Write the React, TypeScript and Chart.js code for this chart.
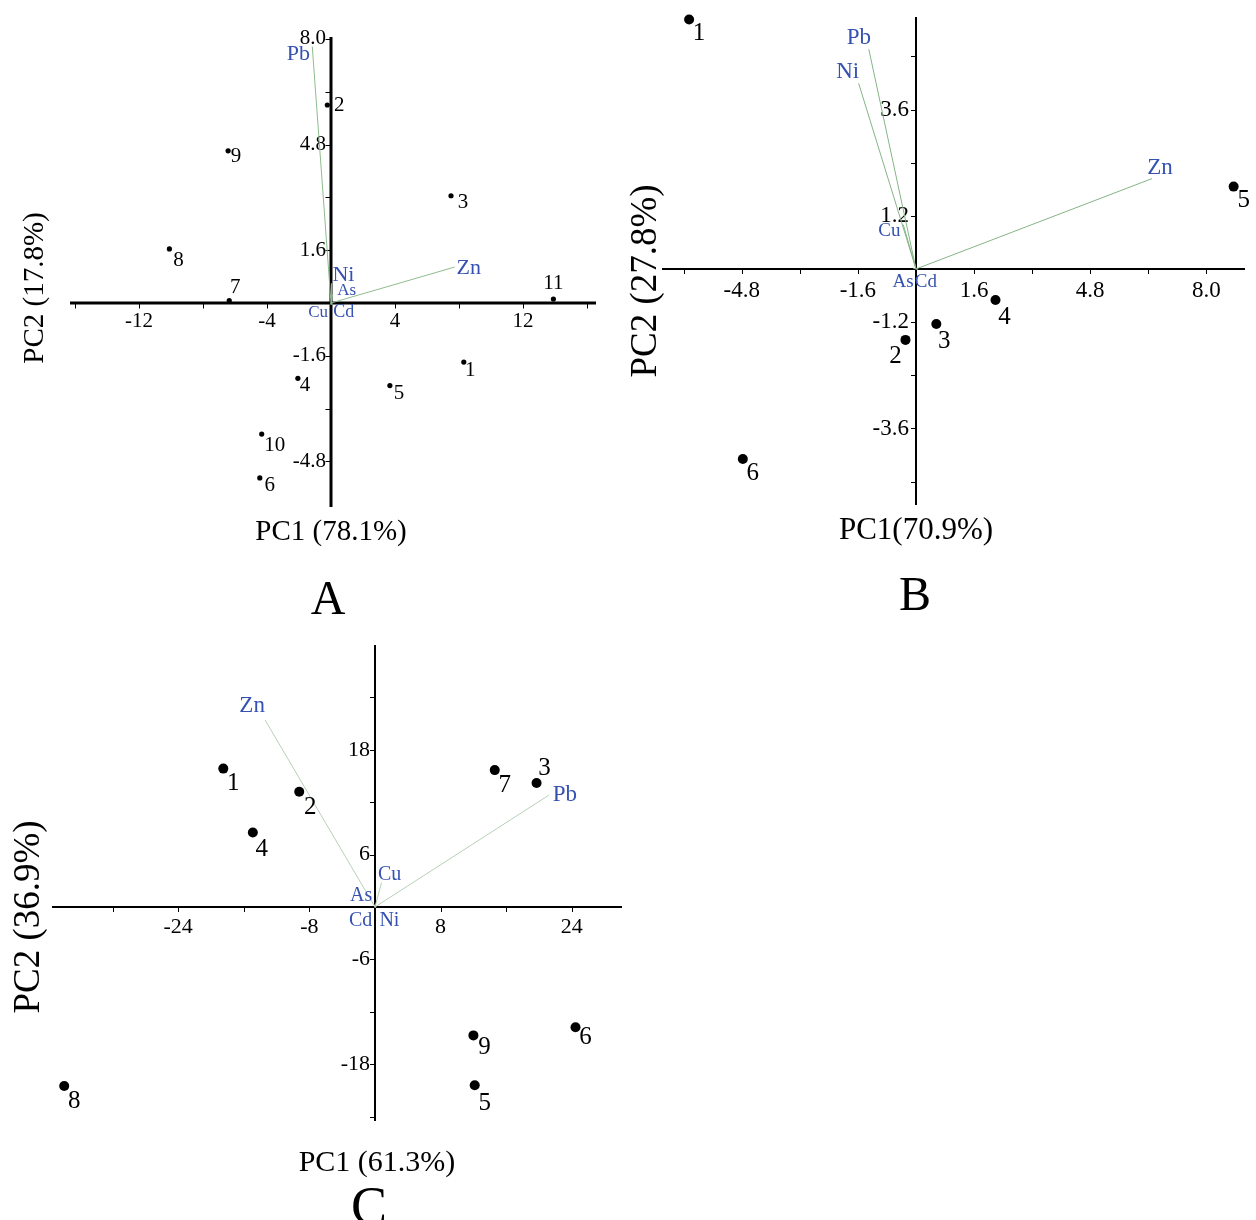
import React, { useEffect, useRef } from 'react';
import { Chart, registerables } from 'chart.js';

Chart.register(...registerables);

// ---------------- Panel A data ----------------
const A_SAMPLES = ['1', '2', '3', '4', '5', '6', '7', '8', '9', '10', '11'];
const A_PC1 = [8.3, -0.23, 7.5, -2.07, 3.68, -4.45, -6.36, -10.1, -6.43, -4.33, 13.9];
const A_PC2 = [-1.79, 6.0, 3.25, -2.28, -2.5, -5.3, 0.07, 1.64, 4.61, -3.97, 0.12];
const A_ELEMENTS = ['Pb', 'Zn', 'Ni', 'As', 'Cu', 'Cd'];
const A_LOAD_PC1 = [-1.17, 7.73, 0.03, 0.1, -0.05, 0.05];
const A_LOAD_PC2 = [7.77, 1.09, 0.6, 0.25, -0.05, -0.05];
const A_X_TICKS = [-16, -12, -8, -4, 4, 8, 12, 16];
const A_X_LABELS = ['-12', '-4', '4', '12'];
const A_Y_TICKS = [-4.8, -3.2, -1.6, 1.6, 3.2, 4.8, 6.4, 8.0];
const A_Y_LABELS = ['8.0', '4.8', '1.6', '-1.6', '-4.8'];

// ---------------- Panel B data ----------------
const B_SAMPLES = ['1', '2', '3', '4', '5', '6'];
const B_PC1 = [-6.25, -0.29, 0.56, 2.19, 8.75, -4.77];
const B_PC2 = [5.63, -1.6, -1.24, -0.7, 1.86, -4.29];
const B_ELEMENTS = ['Pb', 'Ni', 'Zn', 'Cu', 'As', 'Cd'];
const B_LOAD_PC1 = [-1.3, -1.58, 6.5, -0.35, -0.08, 0.05];
const B_LOAD_PC2 = [4.96, 4.19, 2.04, 1.0, 0.02, -0.02];
const B_X_TICKS = [-6.4, -4.8, -3.2, -1.6, 1.6, 3.2, 4.8, 6.4, 8.0];
const B_X_LABELS = ['-4.8', '-1.6', '1.6', '4.8', '8.0'];
const B_Y_TICKS = [-4.8, -3.6, -2.4, -1.2, 1.2, 2.4, 3.6, 4.8];
const B_Y_LABELS = ['3.6', '1.2', '-1.2', '-3.6'];

// ---------------- Panel C data ----------------
const C_SAMPLES = ['1', '2', '3', '4', '5', '6', '7', '8', '9'];
const C_PC1 = [-18.5, -9.24, 19.7, -14.9, 12.16, 24.45, 14.6, -37.9, 12.0];
const C_PC2 = [15.84, 13.2, 14.2, 8.53, -20.4, -13.76, 15.67, -20.5, -14.7];
const C_ELEMENTS = ['Zn', 'Pb', 'Cu', 'As', 'Cd', 'Ni'];
const C_LOAD_PC1 = [-13.4, 21.2, 0.8, -0.1, -0.05, 0.05];
const C_LOAD_PC2 = [21.4, 12.8, 2.8, 0.3, -0.05, -0.05];
const C_X_TICKS = [-32, -24, -16, -8, 8, 16, 24];
const C_X_LABELS = ['-24', '-8', '8', '24'];
const C_Y_TICKS = [-24, -18, -12, -6, 6, 12, 18, 24];
const C_Y_LABELS = ['18', '6', '-6', '-18'];

const SERIF = '"Liberation Serif", "Times New Roman", "DejaVu Serif", serif';
const BLUE = '#3552b2';

type Off = [number, number];

interface PanelCfg {
  left: number; top: number; w: number; h: number;
  pad: { left: number; top: number; right: number; bottom: number };
  xMin: number; xMax: number; yMin: number; yMax: number;
  samples: string[]; pc1: number[]; pc2: number[];
  elements: string[]; lx: number[]; ly: number[];
  xTicks: number[]; xLabels: string[]; yTicks: number[]; yLabels: string[];
  axisWidth: number; tickLen: number; tickFont: number; xLabelGap: number; yLabelGap: number;
  pointRadius: number; pointFont: number;
  sampleOff: Record<string, Off>; sampleDefault: Off;
  loadOff: Record<string, Off>; loadFont: Record<string, number>;
  lineColor: string;
  xTitle: string; xTitlePos: [number, number]; xTitleFont: number;
  yTitle: string; yTitlePos: [number, number]; yTitleFont: number;
  letter: string; letterPos: [number, number]; letterFont: number;
}

const PANELS: PanelCfg[] = [
  {
    left: 0, top: 0, w: 620, h: 640,
    pad: { left: 70, top: 37, right: 24, bottom: 133 },
    xMin: -16.3125, xMax: 16.5625, yMin: -6.18, yMax: 8.06,
    samples: A_SAMPLES, pc1: A_PC1, pc2: A_PC2,
    elements: A_ELEMENTS, lx: A_LOAD_PC1, ly: A_LOAD_PC2,
    xTicks: A_X_TICKS, xLabels: A_X_LABELS, yTicks: A_Y_TICKS, yLabels: A_Y_LABELS,
    axisWidth: 3, tickLen: 4, tickFont: 21, xLabelGap: 18, yLabelGap: 5,
    pointRadius: 2.6, pointFont: 21,
    sampleOff: {
      '1': [6.5, 8], '2': [12, 0], '3': [12, 7], '4': [7, 7], '5': [9, 8], '6': [10, 8],
      '7': [6, -13], '8': [9, 12], '9': [8, 6], '10': [13, 11], '11': [0, -16],
    },
    sampleDefault: [8, 8],
    loadOff: { Pb: [-14, 8], Zn: [14, 1], Ni: [12, -8], As: [14, -4], Cu: [-12, 8], Cd: [12, 8] },
    loadFont: { Pb: 22, Zn: 22, Ni: 22, As: 17, Cu: 17, Cd: 18 },
    lineColor: '#8fbc8f',
    xTitle: 'PC1 (78.1%)', xTitlePos: [331, 540], xTitleFont: 29,
    yTitle: 'PC2 (17.8%)', yTitlePos: [43, 288], yTitleFont: 29,
    letter: 'A', letterPos: [328, 614], letterFont: 48,
  },
  {
    left: 620, top: 0, w: 636, h: 640,
    pad: { left: 42, top: 17, right: 11, bottom: 135 },
    xMin: -6.997, xMax: 9.063, yMin: -5.327, yMax: 5.688,
    samples: B_SAMPLES, pc1: B_PC1, pc2: B_PC2,
    elements: B_ELEMENTS, lx: B_LOAD_PC1, ly: B_LOAD_PC2,
    xTicks: B_X_TICKS, xLabels: B_X_LABELS, yTicks: B_Y_TICKS, yLabels: B_Y_LABELS,
    axisWidth: 2, tickLen: 4, tickFont: 23, xLabelGap: 22, yLabelGap: 7,
    pointRadius: 5, pointFont: 25,
    sampleOff: { '2': [-10, 17], '3': [8, 18], '4': [9, 17], '5': [10, 14] },
    sampleDefault: [10, 14],
    loadOff: { Pb: [-10, -11], Ni: [-11, -11], Zn: [8, -11], Cu: [-14, 6], As: [-10, 14], Cd: [8, 12] },
    loadFont: { Pb: 23, Ni: 23, Zn: 23, Cu: 19, As: 19, Cd: 19 },
    lineColor: '#86b486',
    xTitle: 'PC1(70.9%)', xTitlePos: [296, 539], xTitleFont: 31,
    yTitle: 'PC2 (27.8%)', yTitlePos: [36, 281], yTitleFont: 37,
    letter: 'B', letterPos: [295, 610], letterFont: 48,
  },
  {
    left: 0, top: 630, w: 640, h: 590,
    pad: { left: 52, top: 15, right: 18, bottom: 99 },
    xMin: -39.39, xMax: 30.12, yMin: -24.5, yMax: 29.99,
    samples: C_SAMPLES, pc1: C_PC1, pc2: C_PC2,
    elements: C_ELEMENTS, lx: C_LOAD_PC1, ly: C_LOAD_PC2,
    xTicks: C_X_TICKS, xLabels: C_X_LABELS, yTicks: C_Y_TICKS, yLabels: C_Y_LABELS,
    axisWidth: 2, tickLen: 4, tickFont: 22, xLabelGap: 20, yLabelGap: 5,
    pointRadius: 5, pointFont: 25,
    sampleOff: { '2': [11, 16], '3': [8, -14], '4': [9, 17], '5': [10, 18], '6': [10, 10], '9': [11, 12] },
    sampleDefault: [10, 15],
    loadOff: { Zn: [-13, -14], Pb: [16, 0], Cu: [8, -8], As: [-13, -9], Cd: [-14, 13], Ni: [14, 13] },
    loadFont: { Zn: 23, Pb: 23, Cu: 20, As: 20, Cd: 20, Ni: 20 },
    lineColor: '#b8d0b8',
    xTitle: 'PC1 (61.3%)', xTitlePos: [377, 541], xTitleFont: 30,
    yTitle: 'PC2 (36.9%)', yTitlePos: [39, 287], yTitleFont: 37,
    letter: 'C', letterPos: [369, 594], letterFont: 54,
  },
];

function makePlugin(cfg: PanelCfg) {
  return {
    id: 'biplot',
    beforeDatasetsDraw(chart: any) {
      const { ctx, chartArea: area } = chart;
      const xs = chart.scales.x;
      const ys = chart.scales.y;
      const ox = xs.getPixelForValue(0);
      const oy = ys.getPixelForValue(0);
      ctx.save();
      ctx.strokeStyle = '#000';
      ctx.lineWidth = cfg.axisWidth;
      ctx.beginPath();
      ctx.moveTo(area.left, oy);
      ctx.lineTo(area.right, oy);
      ctx.moveTo(ox, area.top);
      ctx.lineTo(ox, area.bottom);
      ctx.stroke();
      ctx.lineWidth = 1;
      ctx.beginPath();
      const half = cfg.axisWidth / 2;
      for (const t of cfg.xTicks) {
        const px = Math.round(xs.getPixelForValue(t)) + 0.5;
        ctx.moveTo(px, oy);
        ctx.lineTo(px, oy + half + cfg.tickLen);
      }
      for (const t of cfg.yTicks) {
        const py = Math.round(ys.getPixelForValue(t)) + 0.5;
        ctx.moveTo(ox, py);
        ctx.lineTo(ox - half - cfg.tickLen, py);
      }
      ctx.stroke();
      ctx.fillStyle = '#000';
      ctx.font = `${cfg.tickFont}px ${SERIF}`;
      ctx.textAlign = 'center';
      ctx.textBaseline = 'middle';
      for (const l of cfg.xLabels) {
        ctx.fillText(l, xs.getPixelForValue(parseFloat(l)), oy + cfg.xLabelGap);
      }
      ctx.textAlign = 'right';
      for (const l of cfg.yLabels) {
        ctx.fillText(l, ox - cfg.yLabelGap, ys.getPixelForValue(parseFloat(l)));
      }
      ctx.restore();
    },
    afterDatasetsDraw(chart: any) {
      const { ctx } = chart;
      const xs = chart.scales.x;
      const ys = chart.scales.y;
      ctx.save();
      ctx.textAlign = 'center';
      ctx.textBaseline = 'middle';
      ctx.fillStyle = '#000';
      ctx.font = `${cfg.pointFont}px ${SERIF}`;
      cfg.samples.forEach((s, i) => {
        const off = cfg.sampleOff[s] || cfg.sampleDefault;
        ctx.fillText(s, xs.getPixelForValue(cfg.pc1[i]) + off[0], ys.getPixelForValue(cfg.pc2[i]) + off[1]);
      });
      ctx.fillStyle = BLUE;
      cfg.elements.forEach((e, i) => {
        const off = cfg.loadOff[e] || [0, 0];
        ctx.font = `${cfg.loadFont[e] || 20}px ${SERIF}`;
        ctx.fillText(e, xs.getPixelForValue(cfg.lx[i]) + off[0], ys.getPixelForValue(cfg.ly[i]) + off[1]);
      });
      ctx.restore();
    },
    afterDraw(chart: any) {
      const { ctx } = chart;
      ctx.save();
      ctx.fillStyle = '#000';
      ctx.textAlign = 'center';
      ctx.textBaseline = 'alphabetic';
      ctx.font = `${cfg.xTitleFont}px ${SERIF}`;
      ctx.fillText(cfg.xTitle, cfg.xTitlePos[0], cfg.xTitlePos[1]);
      ctx.font = `${cfg.letterFont}px ${SERIF}`;
      ctx.fillText(cfg.letter, cfg.letterPos[0], cfg.letterPos[1]);
      ctx.translate(cfg.yTitlePos[0], cfg.yTitlePos[1]);
      ctx.rotate(-Math.PI / 2);
      ctx.font = `${cfg.yTitleFont}px ${SERIF}`;
      ctx.fillText(cfg.yTitle, 0, 0);
      ctx.restore();
    },
  };
}

function buildConfig(cfg: PanelCfg): any {
  const loadingSets = cfg.elements.map((e, i) => ({
    label: e,
    data: [{ x: 0, y: 0 }, { x: cfg.lx[i], y: cfg.ly[i] }],
    showLine: true,
    borderColor: cfg.lineColor,
    borderWidth: 1,
    pointRadius: 0,
    pointHoverRadius: 0,
    clip: false,
    order: 2,
  }));
  const sampleSet = {
    label: 'samples',
    data: cfg.samples.map((_, i) => ({ x: cfg.pc1[i], y: cfg.pc2[i] })),
    showLine: false,
    pointRadius: cfg.pointRadius,
    pointBackgroundColor: '#000',
    pointBorderColor: '#000',
    pointBorderWidth: 0,
    clip: false,
    order: 1,
  };
  return {
    type: 'scatter',
    data: { datasets: [sampleSet, ...loadingSets] },
    options: {
      animation: false,
      responsive: false,
      maintainAspectRatio: false,
      events: [],
      layout: { padding: cfg.pad },
      plugins: { legend: { display: false }, tooltip: { enabled: false }, title: { display: false } },
      scales: {
        x: { type: 'linear', display: false, bounds: 'data', min: cfg.xMin, max: cfg.xMax },
        y: { type: 'linear', display: false, bounds: 'data', min: cfg.yMin, max: cfg.yMax },
      },
    },
    plugins: [makePlugin(cfg)],
  };
}

function Panel({ cfg }: { cfg: PanelCfg }) {
  const ref = useRef<HTMLCanvasElement>(null);
  useEffect(() => {
    const chart = new Chart(ref.current as HTMLCanvasElement, buildConfig(cfg));
    return () => chart.destroy();
  }, [cfg]);
  return (
    <canvas
      ref={ref}
      width={cfg.w}
      height={cfg.h}
      style={{ position: 'absolute', left: cfg.left, top: cfg.top, width: cfg.w, height: cfg.h }}
    />
  );
}

export default function App() {
  return (
    <div style={{ position: 'absolute', left: 0, top: 0, width: 1256, height: 1220, background: '#fff', overflow: 'hidden' }}>
      {PANELS.map((p, i) => (
        <Panel key={i} cfg={p} />
      ))}
    </div>
  );
}
